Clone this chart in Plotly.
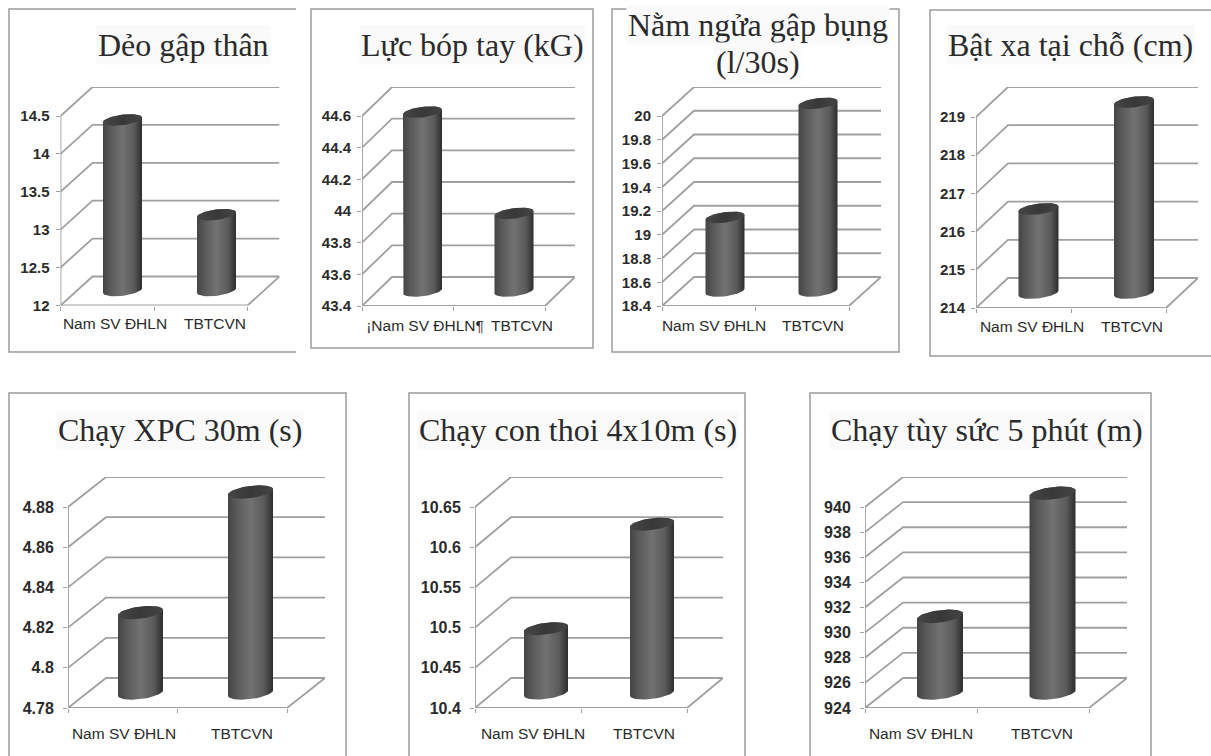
import numpy as np
import plotly.graph_objects as go

CATEGORIES = ["Nam SV ĐHLN", "TBTCVN"]
CATEGORIES_P2 = ["¡Nam SV ĐHLN¶", "TBTCVN"]

TITLE_1 = ["Dẻo gập thân"]
TICKS_1 = [12, 12.5, 13, 13.5, 14, 14.5]
VALUES_1 = [14.25, 13.0]

TITLE_2 = ["Lực bóp tay (kG)"]
TICKS_2 = [43.4, 43.6, 43.8, 44, 44.2, 44.4, 44.6]
VALUES_2 = [44.53, 43.89]

TITLE_3 = ["Nằm ngửa gập bụng", "(l/30s)"]
TICKS_3 = [18.4, 18.6, 18.8, 19, 19.2, 19.4, 19.6, 19.8, 20]
VALUES_3 = [19.02, 19.98]

TITLE_4 = ["Bật xa tại chỗ (cm)"]
TICKS_4 = [214, 215, 216, 217, 218, 219]
VALUES_4 = [216.2, 219.0]

TITLE_5 = ["Chạy XPC 30m (s)"]
TICKS_5 = [4.78, 4.8, 4.82, 4.84, 4.86, 4.88]
VALUES_5 = [4.82, 4.88]

TITLE_6 = ["Chạy con thoi 4x10m (s)"]
TICKS_6 = [10.4, 10.45, 10.5, 10.55, 10.6, 10.65]
VALUES_6 = [10.48, 10.61]

TITLE_7 = ["Chạy tùy sức 5 phút (m)"]
TICKS_7 = [924, 926, 928, 930, 932, 934, 936, 938, 940]
VALUES_7 = [930.1, 939.9]

# layout in pixels: x0, y0 (front-left floor), y of top tick, front width, depth dx, dy,
# cylinder centres, half width, label centres, title line centres, frame box, tick size, tick gaps
PANELS = [
    dict(t=TITLE_1, c=CATEGORIES, k=TICKS_1, v=VALUES_1, x0=60.5, y0=305.5, yt=116, w=187, dx=32, dy=29,
         cx=[122.5, 216.5], rx=19.5, lx=[115, 215], tc=[(183, 45)], fr=(9, 9, 296, 352), open_right=True, fs=15, sd=3, xsd=7),
    dict(t=TITLE_2, c=CATEGORIES_P2, k=TICKS_2, v=VALUES_2, x0=362, y0=306, yt=116, w=183, dx=30, dy=29,
         cx=[422.5, 514], rx=19.5, lx=[425, 522], tc=[(472, 45)], fr=(311, 9, 593, 348), open_right=False, fs=15, sd=3, xsd=8),
    dict(t=TITLE_3, c=CATEGORIES, k=TICKS_3, v=VALUES_3, x0=662, y0=306, yt=116, w=187, dx=32, dy=29,
         cx=[725, 818], rx=19.5, lx=[714, 813], tc=[(758, 25), (758, 62)], fr=(612, 9, 899, 352), open_right=False, fs=15, sd=3, xsd=8),
    dict(t=TITLE_4, c=CATEGORIES, k=TICKS_4, v=VALUES_4, x0=976, y0=308, yt=117, w=190, dx=32, dy=30,
         cx=[1038.5, 1134], rx=20, lx=[1032, 1132], tc=[(1070, 45)], fr=(930, 10, 1215, 356), open_right=False, fs=15, sd=3, xsd=7),
    dict(t=TITLE_5, c=CATEGORIES, k=TICKS_5, v=VALUES_5, x0=68, y0=708, yt=507, w=219, dx=38, dy=30,
         cx=[140.5, 250.5], rx=22.5, lx=[124, 242], tc=[(180, 430)], fr=(9, 393, 346, 760), open_right=False, fs=16, sd=6, xsd=14),
    dict(t=TITLE_6, c=CATEGORIES, k=TICKS_6, v=VALUES_6, x0=475, y0=708, yt=507, w=212, dx=36, dy=30,
         cx=[546, 652], rx=22, lx=[533, 644], tc=[(578, 430)], fr=(409, 393, 745, 760), open_right=False, fs=16, sd=6, xsd=14),
    dict(t=TITLE_7, c=CATEGORIES, k=TICKS_7, v=VALUES_7, x0=865, y0=708, yt=507, w=224, dx=38, dy=30,
         cx=[940, 1052.5], rx=23, lx=[921, 1042], tc=[(987, 430)], fr=(810, 393, 1151, 760), open_right=False, fs=16, sd=6, xsd=14),
]

WIDTH, HEIGHT = 1211, 756
GRID = "#a0a0a0"
TEXT = "#2b2b2b"
BODY = [[0, "#444444"], [0.18, "#585858"], [0.5, "#727272"], [0.8, "#5a5a5a"], [0.94, "#3a3a3a"], [1, "#2e2e2e"]]
TOP = [[0, "#464646"], [0.5, "#383838"], [1, "#444444"]]
BASE_OFFSET = 15

fig = go.Figure()
layout = {}
shapes = []
annotations = []

for i, p in enumerate(PANELS):
    n = "" if i == 0 else str(i + 1)
    xa, ya = "x" + n, "y" + n
    ticks, vals = p["k"], p["v"]
    vmin, vmax = ticks[0], ticks[-1]
    sy = (p["y0"] - p["yt"]) / (vmax - vmin)   # px per unit
    sx = p["w"] / 2                             # px per category
    ddx, ddy = p["dx"] / sx, p["dy"] / sy
    xr = [0, 2 + ddx]
    yr = [vmin, vmax + ddy]
    ytop = p["yt"] - p["dy"]
    layout["xaxis" + n] = dict(
        domain=[p["x0"] / WIDTH, (p["x0"] + p["w"] + p["dx"]) / WIDTH], range=xr, anchor=ya, automargin=False,
        showgrid=False, zeroline=False, showline=False, ticks="", ticklen=0,
        tickmode="array", tickvals=[(lx - p["x0"]) / sx for lx in p["lx"]], ticktext=p["c"],
        ticklabelstandoff=p["xsd"], tickfont=dict(family="Liberation Sans", size=15.5, color=TEXT),
        minor=dict(tickmode="array", tickvals=[0, 1, 2], ticks="outside", ticklen=4, tickcolor=GRID, tickwidth=1.2),
    )
    layout["yaxis" + n] = dict(
        domain=[1 - p["y0"] / HEIGHT, 1 - ytop / HEIGHT], range=yr, anchor=xa, automargin=False,
        showgrid=False, zeroline=False, showline=False, ticks="outside", ticklen=4, tickcolor=GRID, tickwidth=1.2,
        tickmode="array", tickvals=ticks, ticktext=[str(t) for t in ticks], ticklabelstandoff=p["sd"],
        tickfont=dict(family="Liberation Sans", size=p["fs"], color=TEXT, weight=700),
    )

    # walls and floor, in data coordinates
    gx, gy = [0, 0], [vmin, vmax]
    for t in ticks:
        gx += [None, 0, ddx, 2 + ddx]
        gy += [None, t, t + ddy, t + ddy]
    gx += [None, 0, 2, 2 + ddx]
    gy += [None, vmin, vmin, vmin + ddy]
    fig.add_trace(go.Scatter(x=gx, y=gy, xaxis=xa, yaxis=ya, mode="lines",
                             line=dict(color=GRID, width=1.8), hoverinfo="skip", showlegend=False))

    # cylinders stand half-way into the floor, so they rise from a depth offset
    lift = BASE_OFFSET / sy
    for cx_px, val in zip(p["cx"], vals):
        rx = p["rx"]
        ry, tilt = rx * 0.27, rx * 0.12
        cx = cx_px
        t_px = np.linspace(0, np.pi, 30)
        top = val + lift
        base = vmin + lift
        # upper arc of top ellipse, lower arc of base ellipse
        ux = cx + rx * np.cos(t_px)
        uy = top + (ry * np.sin(t_px) + tilt * np.cos(t_px)) / sy
        lx_ = cx + rx * np.cos(t_px + np.pi)
        ly = base + (ry * np.sin(t_px + np.pi) + tilt * np.cos(t_px + np.pi)) / sy
        bx = (np.r_[ux, lx_, ux[0]] - p["x0"]) / sx
        by = np.r_[uy, ly, uy[0]]
        fig.add_trace(go.Scatter(x=bx, y=by, xaxis=xa, yaxis=ya, mode="lines", fill="toself",
                                 line=dict(width=0, color="#333333"),
                                 fillgradient=dict(type="horizontal", colorscale=BODY),
                                 hoverinfo="skip", showlegend=False, cliponaxis=False))
        t_all = np.linspace(0, 2 * np.pi, 60)
        ex = (cx + rx * np.cos(t_all) - p["x0"]) / sx
        ey = top + (ry * np.sin(t_all) + tilt * np.cos(t_all)) / sy
        fig.add_trace(go.Scatter(x=ex, y=ey, xaxis=xa, yaxis=ya, mode="lines", fill="toself",
                                 line=dict(width=0, color="#3c3c3c"),
                                 fillgradient=dict(type="horizontal", colorscale=TOP),
                                 hoverinfo="skip", showlegend=False, cliponaxis=False))

    # frame
    l, t, r, b = p["fr"]
    path = f"M {r/WIDTH} {1-t/HEIGHT} L {l/WIDTH} {1-t/HEIGHT} L {l/WIDTH} {1-b/HEIGHT} L {r/WIDTH} {1-b/HEIGHT}"
    if not p["open_right"]:
        path += " Z"
    shapes.append(dict(type="path", xref="paper", yref="paper", path=path, layer="below",
                       line=dict(color="#9c9c9c", width=1.5)))
    for line_text, (tx, ty) in zip(p["t"], p["tc"]):
        annotations.append(dict(text=line_text, x=tx / WIDTH, y=1 - ty / HEIGHT, xref="paper", yref="paper",
                                xanchor="center", yanchor="middle", showarrow=False, bgcolor="#fafafa",
                                font=dict(family="Liberation Serif", size=32, color=TEXT), align="center"))

fig.update_layout(width=WIDTH, height=HEIGHT, margin=dict(l=0, r=0, t=0, b=0, pad=0, autoexpand=False),
                  paper_bgcolor="white", plot_bgcolor="rgba(0,0,0,0)", showlegend=False,
                  shapes=shapes, annotations=annotations, **layout)
fig.write_html("out.html", config={"displayModeBar": False}, post_script="document.body.style.margin='0';")
